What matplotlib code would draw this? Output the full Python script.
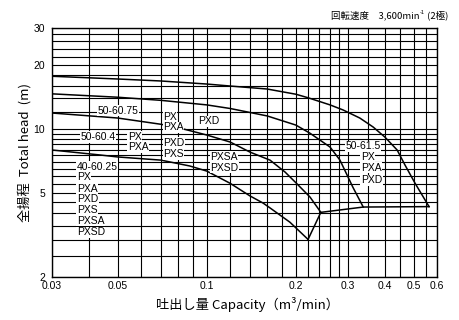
import matplotlib
matplotlib.use("Agg")
import matplotlib.pyplot as plt
import matplotlib.ticker as mticker

# ---------------- data ----------------
# pump curves (capacity m3/min, total head m)
curveA_x = [0.03, 0.05, 0.07, 0.1, 0.12, 0.16, 0.2, 0.22, 0.261, 0.289, 0.329, 0.365, 0.4, 0.44, 0.468, 0.506, 0.564]
curveA_y = [17.75, 17.23, 16.86, 16.31, 15.96, 15.45, 14.6, 14.05, 13.0, 12.3, 11.27, 10.22, 9.16, 7.96, 6.75, 5.54, 4.30]

curveB_x = [0.03, 0.05, 0.07, 0.1, 0.12, 0.16, 0.2, 0.2234, 0.261, 0.282, 0.312, 0.338]
curveB_y = [14.66, 14.13, 13.66, 13.0, 12.5, 11.53, 10.44, 9.55, 8.22, 7.13, 5.30, 4.28]

curveC_x = [0.03, 0.05, 0.07, 0.0812, 0.1, 0.12, 0.14, 0.1636, 0.184, 0.201, 0.2234, 0.243]
curveC_y = [11.9, 11.27, 10.53, 10.1, 9.37, 8.68, 7.78, 7.13, 6.26, 5.54, 4.77, 4.04]

curveD_x = [0.03, 0.0436, 0.05, 0.07, 0.0876, 0.1, 0.12, 0.14, 0.155, 0.1636, 0.191, 0.22]
curveD_y = [7.96, 7.54, 7.38, 7.13, 6.69, 6.33, 5.54, 4.83, 4.47, 4.24, 3.63, 3.01]

# limit line connecting the curve end points
limit_x = [0.22, 0.243, 0.338, 0.564]
limit_y = [3.01, 4.04, 4.28, 4.30]

# in-plot labels: (text, x, y, ha)
labels = [
    ("50-60.75", 0.0501, 12.17, "center"),
    ("PX", 0.0712, 11.4, "left"),
    ("PXA", 0.0712, 10.2, "left"),
    ("PXD", 0.0934, 10.9, "left"),
    ("50-60.4", 0.0429, 9.17, "center"),
    ("PX", 0.0542, 9.17, "left"),
    ("PXA", 0.0542, 8.22, "left"),
    ("PXD", 0.0712, 8.59, "left"),
    ("PXS", 0.0712, 7.62, "left"),
    ("PXSA", 0.1026, 7.38, "left"),
    ("PXSD", 0.1026, 6.55, "left"),
    ("40-60.25", 0.0364, 6.62, "left"),
    ("PX", 0.0364, 5.93, "left"),
    ("PXA", 0.0364, 5.21, "left"),
    ("PXD", 0.0364, 4.67, "left"),
    ("PXS", 0.0364, 4.14, "left"),
    ("PXSA", 0.0364, 3.68, "left"),
    ("PXSD", 0.0364, 3.26, "left"),
    ("50-61.5", 0.337, 8.31, "center"),
    ("PX", 0.332, 7.38, "left"),
    ("PXA", 0.332, 6.55, "left"),
    ("PXD", 0.332, 5.74, "left"),
]

xticks = [0.03, 0.05, 0.1, 0.2, 0.3, 0.4, 0.5, 0.6]
xtick_labels = ["0.03", "0.05", "0.1", "0.2", "0.3", "0.4", "0.5", "0.6"]
yticks = [2, 5, 10, 20, 30]
ytick_labels = ["2", "5", "10", "20", "30"]

xgrid = ([0.03, 0.04, 0.05, 0.06, 0.07, 0.08, 0.09, 0.1]
         + [0.12, 0.14, 0.16, 0.18, 0.2, 0.22, 0.24, 0.26, 0.28, 0.3]
         + [0.35, 0.4, 0.45, 0.5, 0.55, 0.6])
ygrid = ([2, 2.5, 3, 3.5, 4, 4.5, 5, 5.5, 6, 6.5, 7, 7.5, 8, 8.5, 9, 9.5, 10]
         + [12, 14, 16, 18, 20, 22, 24, 26, 28, 30])

title_main = "回転速度　3,600min"
title_sup = "-1"
title_tail = " (2極)"

# ---------------- plot ----------------
narrow = ["Liberation Sans", "DejaVu Sans"]
cjk = ["Noto Sans CJK JP", "DejaVu Sans"]

W, H = 459, 320
fig = plt.figure(figsize=(W / 100, H / 100), dpi=100)
ax = fig.add_axes([52 / W, 1 - 277 / H, (437 - 52) / W, (277 - 28) / H])
ax.set_xscale("log")
ax.set_yscale("log")
ax.set_xlim(0.03, 0.6)
ax.set_ylim(2, 30)

for gx in xgrid:
    ax.axvline(gx, color="black", lw=0.8, zorder=1)
for gy in ygrid:
    ax.axhline(gy, color="black", lw=0.8, zorder=1)

for cx, cy in [(curveA_x, curveA_y), (curveB_x, curveB_y),
               (curveC_x, curveC_y), (curveD_x, curveD_y), (limit_x, limit_y)]:
    ax.plot(cx, cy, color="black", lw=1.1, zorder=3, solid_joinstyle="round")

for t, lx, ly, ha in labels:
    ax.text(lx, ly, t, ha=ha, va="center", fontsize=7.5, family=narrow, zorder=4,
            bbox=dict(facecolor="white", edgecolor="none", pad=0.4))

ax.xaxis.set_minor_locator(mticker.NullLocator())
ax.yaxis.set_minor_locator(mticker.NullLocator())
ax.set_xticks(xticks)
ax.set_xticklabels(xtick_labels, family=narrow, fontsize=7.5)
ax.set_yticks(yticks)
ax.set_yticklabels(ytick_labels, family=narrow, fontsize=7.5)
ax.tick_params(axis="x", length=0, pad=3)
ax.tick_params(axis="y", length=0, pad=5)
for s in ax.spines.values():
    s.set_linewidth(1.0)

fig.text(247 / W, 1 - 304 / H, "吐出し量 Capacity（m³/min）",
         ha="center", va="center", fontsize=9.5, family=cjk)
fig.text(25 / W, 1 - 152 / H, "全揚程  Total head  (m)", rotation=90,
         ha="center", va="center", fontsize=9.5, family=cjk)

# top-right title built from pieces so that the exponent can be small
fig.canvas.draw()
r = fig.canvas.get_renderer()
t3 = fig.text(448 / W, 1 - 15 / H, title_tail, ha="right", va="center",
              fontsize=6.8, family=cjk)
bb3 = t3.get_window_extent(r)
t2 = fig.text(bb3.x0 / W, 1 - 12 / H, title_sup, ha="right", va="center",
              fontsize=4, family=narrow)
bb2 = t2.get_window_extent(r)
fig.text(bb2.x0 / W, 1 - 15 / H, title_main, ha="right", va="center",
         fontsize=6.8, family=cjk)

fig.savefig("out.png", dpi=100)
